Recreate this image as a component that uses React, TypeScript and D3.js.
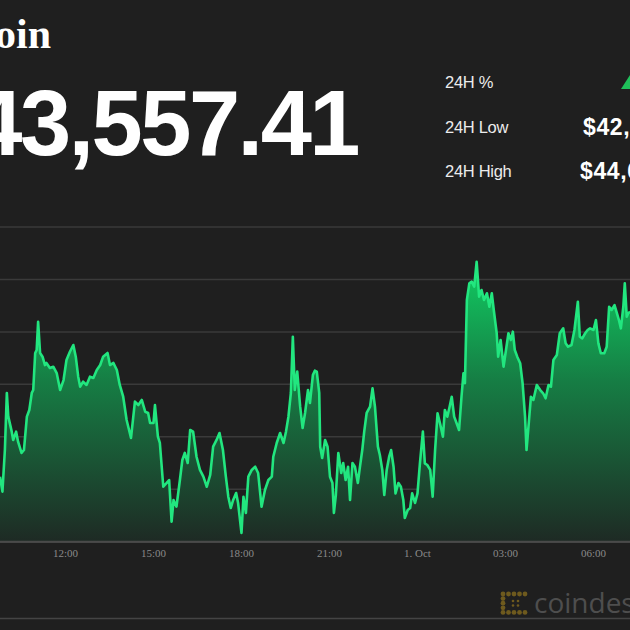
import React from "react";
import * as d3 from "d3";

// minutes since 30 Sep 00:00
const minutes = [
  586,591,596,600,603,610,613,619,623,630,635,641,646,651,654,658,661,664,668,673,678,681,688,695,702,709,716,722,729,736,741,746,750,756,763,770,777,784,791,797,
  806,811,818,825,831,838,845,854,862,869,876,883,889,893,900,903,909,913,920,927,932,937,941,947,954,959,964,970,975,981,988,995,1002,1009,1016,
  1022,1029,1035,1042,1048,1053,1058,1063,1069,1073,1080,1084,1089,1094,1101,1108,1114,1121,1128,1135,1142,1145,1152,1159,1166,1171,1176,1181,1185,1189,1194,1200,1205,1210,1216,1220,1226,1230,
  1234,1239,1241,1245,1251,1256,1261,1266,1269,1273,1278,1284,1288,1293,1298,1302,1307,1312,1318,1322,1327,1331,1336,1343,1348,1353,1359,1363,1368,1372,1377,1382,1386,1391,1395,1401,1406,1411,1414,1420,1425,1429,1435,1440,1445,
  1451,1455,1460,1466,1471,1476,1481,1486,1492,1496,1501,1505,1510,1515,1520,1525,1530,1534,1537,1541,1546,1551,1556,1561,1566,1571,1576,1582,1587,1592,1596,1602,1605,1610,1616,1621,1626,1631,1635,1639,1644,1650,1655,1660,
  1663,1667,1672,1677,1684,1691,1697,1702,1708,1713,1718,1725,1731,1738,1743,1748,1755,1761,1768,1772,1777,1783,1788,1793,1800,1805,1810,1815,1822,1827,1832,1837,1843,1848,1852,1856,1861,1864,1868,1871,1875
];

const prices = [
  42620,42477,42874,43418,43192,43049,42970,43049,42953,42846,42874,43192,43256,43418,43446,43799,43827,44097,43799,43764,43684,43704,43656,43668,43608,43446,43541,43732,43811,43875,43764,43573,43478,43525,43494,43573,43561,43637,43684,43764,
  43799,43684,43704,43637,43494,43382,43160,42989,43335,43303,43351,43239,43227,43132,43132,43303,43001,42941,42524,42560,42588,42191,42398,42334,42588,42779,42846,42750,43065,43049,42810,42684,42620,42524,42636,
  42906,42970,43036,42874,42620,42429,42321,42398,42464,42369,42083,42429,42274,42620,42684,42715,42655,42334,42493,42588,42620,42810,42941,43036,42941,43049,43192,43418,43954,43446,43621,43287,43084,43227,43446,43322,43589,43630,
  43621,43418,42906,42798,42970,42906,42620,42560,42274,42445,42846,42655,42750,42588,42715,42398,42750,42715,42560,42703,42874,43049,43227,43287,43462,43287,42906,42827,42684,42445,42684,42810,42874,42715,42461,42560,42524,42398,42226,42302,42321,42461,42369,42461,42750,
  43049,42747,42731,42684,42429,42874,43224,43129,43001,43256,43192,43272,43382,43192,43129,43065,43382,43605,43510,44304,44463,44479,44431,44669,44336,44399,44304,44368,44240,44368,44209,43987,43764,43923,43668,43827,43987,43923,44002,43827,43764,43701,43510,43192,
  42874,43096,43382,43351,43494,43446,43415,43367,43494,43478,43732,43780,43987,44034,43891,43859,43875,44018,44288,43954,43939,43987,44018,44034,44018,44113,43891,43796,43796,43859,44240,44209,44256,44177,44113,44034,44240,44463,44145,44177,44193
];

const tickMinutes = [720, 900, 1080, 1260, 1440, 1620, 1800];
const tickLabels = ["12:00", "15:00", "18:00", "21:00", "1. Oct", "03:00", "06:00"];
const gridPrices = [42000, 42500, 43000, 43500, 44000, 44500, 45000];
const statLabels = ["24H %", "24H Low", "24H High"];
const titleText = "Bitcoin";
const priceText = "$43,557.41";
const brandText = "coindesk";

export default function App() {
  const x = d3.scaleLinear().domain([720, 1800]).range([65.5, 593.5]);
  const y = d3.scaleLinear().domain([42000, 45000]).range([541.7, 227]);
  const pts: [number, number][] = minutes.map((m, i) => [m, prices[i]]);
  const line = d3.line<[number, number]>().x(d => x(d[0])).y(d => y(d[1]));
  const area = d3.area<[number, number]>().x(d => x(d[0])).y0(y(42000)).y1(d => y(d[1]));

  const lo = d3.min(prices) as number;
  const hi = d3.max(prices) as number;
  const pct = ((prices[prices.length - 1] - prices[0]) / prices[0]) * 100;
  const fmt = d3.format(",.2f");
  const statValues = [`${pct.toFixed(2)}%`, `$${fmt(lo)}`, `$${fmt(hi)}`];

  const statY = [88, 133, 177];

  // logo dots
  const dots: [number, number, number][] = [];
  for (let i = 0; i < 5; i++) dots.push([503, 594 + i * 4.6, 2.4]);
  for (let i = 1; i < 5; i++) dots.push([503 + i * 5.5, 594, 2.4]);
  for (let i = 1; i < 5; i++) dots.push([503 + i * 5.5, 612.4, 2.4]);
  dots.push([513, 601, 1.3], [513, 605.5, 1.3], [518, 601, 1.3], [518, 605.5, 1.3]);

  return (
    <div style={{ position: "fixed", left: 0, top: 0, width: 630, height: 630 }}>
      <svg width={630} height={630} style={{ display: "block" }}>
        <defs>
          <linearGradient id="gfill" gradientUnits="userSpaceOnUse" x1={0} y1={250} x2={0} y2={542}>
            <stop offset="0" stopColor="#10d465" />
            <stop offset="0.45" stopColor="#167d44" />
            <stop offset="1" stopColor="#1e2a24" />
          </linearGradient>
        </defs>
        <rect x={0} y={0} width={630} height={630} fill="#1f1f1f" />

        <text x={51} y={48} textAnchor="end" fill="#ffffff" fontFamily="'Liberation Serif', 'DejaVu Serif', serif" fontWeight="bold" fontSize={42}>{titleText}</text>
        <text x={358} y={155} textAnchor="end" fill="#ffffff" fontFamily="'Liberation Sans', Arial, sans-serif" fontWeight="bold" fontSize={92} letterSpacing={-2.5}>{priceText}</text>

        {statLabels.map((s, i) => (
          <text key={s} x={445} y={statY[i]} fill="#ececec" fontFamily="'Liberation Sans', Arial, sans-serif" fontSize={16.5} letterSpacing={-0.3}>{s}</text>
        ))}
        <path d="M621,89 L630,75 L639,89 Z" fill="#1fc15a" />
        <text x={642} y={statY[0]} fill="#1fc15a" fontFamily="'Liberation Sans', Arial, sans-serif" fontWeight="bold" fontSize={21}>{statValues[0]}</text>
        <text x={583} y={statY[1] + 2} fill="#ffffff" fontFamily="'Liberation Sans', Arial, sans-serif" fontWeight="bold" fontSize={23} letterSpacing={0.6}>{statValues[1]}</text>
        <text x={580} y={statY[2] + 2} fill="#ffffff" fontFamily="'Liberation Sans', Arial, sans-serif" fontWeight="bold" fontSize={23} letterSpacing={0.6}>{statValues[2]}</text>

        {gridPrices.map(p => (
          <line key={p} x1={0} x2={630} y1={y(p)} y2={y(p)} stroke={p === 42000 ? "#4a4a4a" : "#3a3a3a"} strokeWidth={p === 42000 ? 2 : 1.5} />
        ))}

        <path d={area(pts) || ""} fill="url(#gfill)" />
        <path d={line(pts) || ""} fill="none" stroke="#22e67f" strokeWidth={2.6} strokeLinejoin="round" />
        <line x1={0} x2={630} y1={y(42000)} y2={y(42000)} stroke="#4a4a4a" strokeWidth={2} />

        {tickMinutes.map((m, i) => (
          <text key={m} x={x(m)} y={557} textAnchor="middle" fill="#8a8a8a" fontFamily="'Liberation Serif', 'DejaVu Serif', serif" fontSize={11}>{tickLabels[i]}</text>
        ))}

        {dots.map((d, i) => (
          <circle key={i} cx={d[0]} cy={d[1]} r={d[2]} fill="#6e5a1e" />
        ))}
        <text x={534} y={613} fill="#4e4e4e" fontFamily="'Open Sans', 'Liberation Sans', sans-serif" fontSize={28}>{brandText}</text>
        <line x1={0} x2={630} y1={618.5} y2={618.5} stroke="#444" strokeWidth={1.5} />
      </svg>
    </div>
  );
}
